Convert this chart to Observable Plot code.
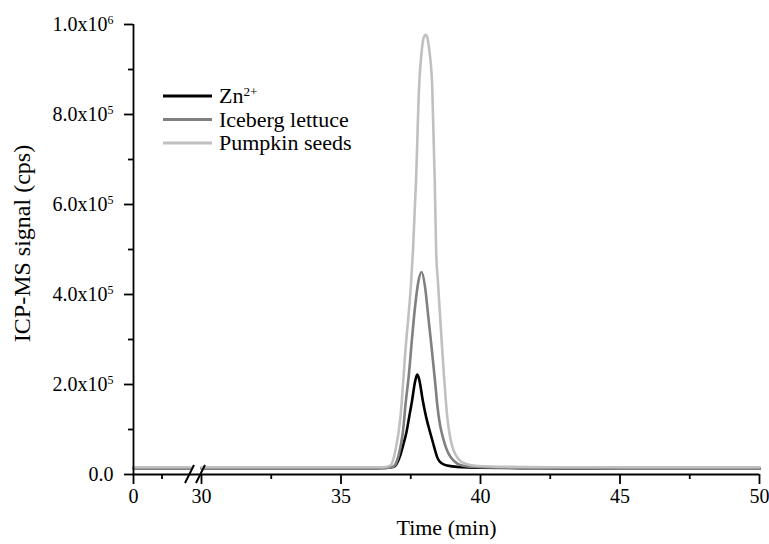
<!DOCTYPE html>
<html><head><meta charset="utf-8">
<script src="https://cdn.jsdelivr.net/npm/d3@7"></script>
<script src="https://cdn.jsdelivr.net/npm/@observablehq/plot@0.6"></script>
<style>
body{margin:0;background:#fff;}
#chart{position:relative;width:769px;height:544px;}
</style></head><body><div id="chart"></div>
<script>
// ---- data ----
const seriesNames = ["Zn2+", "Iceberg lettuce", "Pumpkin seeds"];
const legendLabels = ["Zn^2+", "Iceberg lettuce", "Pumpkin seeds"];
const seriesColors = ["#000000", "#808080", "#c0c0c0"];

const znTime   = [0, 28, 30, 33, 36, 36.6, 36.9, 37.1, 37.25, 37.34, 37.45, 37.55, 37.65, 37.73, 37.8, 37.93, 38.05, 38.21, 38.3, 38.39, 38.45, 38.55, 38.7, 39.0, 39.3, 40, 42, 45, 50];
const znSignal = [14e3, 14e3, 14e3, 14e3, 14e3, 14.5e3, 17e3, 38e3, 70e3, 92e3, 130e3, 165e3, 205e3, 222e3, 212e3, 165e3, 128e3, 90e3, 70e3, 50e3, 38e3, 28e3, 22e3, 18e3, 16e3, 15e3, 14e3, 13e3, 13e3];

const iceTime   = [0, 28, 30, 33, 36, 36.6, 36.84, 37.01, 37.12, 37.22, 37.32, 37.43, 37.55, 37.65, 37.77, 37.89, 38.01, 38.13, 38.26, 38.39, 38.45, 38.55, 38.63, 38.75, 38.86, 39.05, 39.34, 40, 41, 43, 46, 50];
const iceSignal = [14e3, 14e3, 14e3, 14e3, 14e3, 14.5e3, 16e3, 31e3, 58e3, 95e3, 160e3, 220e3, 305e3, 370e3, 428e3, 450e3, 418e3, 350e3, 275e3, 195e3, 155e3, 110e3, 88e3, 62e3, 46e3, 30e3, 20e3, 16e3, 15e3, 14e3, 13e3, 13e3];

const pumTime   = [0, 28, 30, 33, 36, 36.5, 36.6, 36.77, 36.95, 37.13, 37.31, 37.51, 37.58, 37.69, 37.8, 37.9, 37.97, 38.03, 38.09, 38.16, 38.27, 38.36, 38.41, 38.47, 38.63, 38.81, 38.92, 39.04, 39.2, 39.46, 39.9, 41, 43, 50];
const pumSignal = [16e3, 16e3, 16e3, 16e3, 16e3, 16e3, 16.5e3, 20e3, 53e3, 127e3, 276e3, 425e3, 498e3, 654e3, 862e3, 945e3, 972e3, 977e3, 972e3, 945e3, 862e3, 654e3, 498e3, 432e3, 276e3, 127e3, 80e3, 53e3, 35e3, 24e3, 19e3, 17e3, 16e3, 16e3];

const xBreak = [28, 30];
const xTicks = [0, 30, 35, 40, 45, 50];
const xTickLabels = ["0", "30", "35", "40", "45", "50"];
const xMinorTicks = [14, 32.5, 37.5, 42.5, 47.5];
const yTicks = [0, 2e5, 4e5, 6e5, 8e5, 1e6];
const yTickLabels = ["0.0", "2.0x10^5", "4.0x10^5", "6.0x10^5", "8.0x10^5", "1.0x10^6"];
const yMinorTicks = [1e5, 3e5, 5e5, 7e5, 9e5];
const xTitle = "Time (min)";
const yTitle = "ICP-MS signal (cps)";

// broken time axis: 0–28 min is compressed into a short segment, then a gap, then 30–50 min
const leftSpan = 2.043, gapSpan = 0.394;
const axisTime = t => t >= xBreak[1] ? t
  : t <= xBreak[0] ? (xBreak[1] - gapSpan - leftSpan) + t * leftSpan / xBreak[0]
  : xBreak[1] - gapSpan + (t - xBreak[0]) * gapSpan / (xBreak[1] - xBreak[0]);

// ---- build table ----
const seriesData = [[znTime, znSignal], [iceTime, iceSignal], [pumTime, pumSignal]];
const rows = [];
seriesData.forEach(([ts, vs], i) => {
  ts.forEach((t, j) => rows.push({
    series: seriesNames[i],
    key: seriesNames[i] + (t <= xBreak[0] ? "-a" : "-b"),
    x: axisTime(t), v: vs[j]
  }));
});

const font = "'Liberation Serif','Times New Roman',serif";
const svg = Plot.plot({
  width: 769, height: 544,
  marginLeft: 133, marginRight: 10, marginTop: 24, marginBottom: 70,
  style: {fontFamily: font, background: "white", color: "black", overflow: "visible"},
  x: {domain: [axisTime(0), 50], label: null},
  y: {domain: [0, 1e6], label: null},
  color: {domain: seriesNames, range: seriesColors},
  marks: [
    Plot.line(rows, {x: "x", y: "v", z: "key", stroke: "series", strokeWidth: 2.6, curve: "monotone-x"}),
    Plot.ruleY([0], {strokeWidth: 1.8}),
    Plot.ruleX([axisTime(0)], {strokeWidth: 1.8}),
    Plot.axisX(xTicks.map(axisTime), {tickSize: 10, tickPadding: 4, strokeWidth: 1.8, fontSize: 20, label: null,
      tickFormat: d => xTickLabels[xTicks.findIndex(t => Math.abs(axisTime(t) - d) < 1e-9)]}),
    Plot.axisX(xMinorTicks.map(axisTime), {tickSize: 5, strokeWidth: 1.8, label: null, tickFormat: () => ""}),
    Plot.axisY(yTicks, {tickSize: 9, tickPadding: 11, strokeWidth: 1.8, fontSize: 20, label: null,
      tickFormat: d => yTickLabels[yTicks.indexOf(d)]}),
    Plot.axisY(yMinorTicks, {tickSize: 5, strokeWidth: 1.8, label: null, tickFormat: () => ""}),
    Plot.text([yTitle], {frameAnchor: "left", rotate: -90, dx: -111, dy: -6, fontSize: 24, textAnchor: "middle", lineAnchor: "middle"}),
    Plot.text([xTitle], {frameAnchor: "bottom", dy: 53, fontSize: 22, textAnchor: "middle", lineAnchor: "middle"})
  ]
});
document.getElementById("chart").appendChild(svg);

const sx = svg.scale("x");
const sel = d3.select(svg);

// axis break marks
const y0 = svg.scale("y").apply(0);
xBreak.forEach(b => {
  const xb = sx.apply(axisTime(b));
  sel.append("line").attr("x1", xb - 5).attr("y1", y0 + 9).attr("x2", xb + 4).attr("y2", y0 - 9)
    .attr("stroke", "black").attr("stroke-width", 2);
});

// legend
const lg = sel.append("g").attr("font-family", font).attr("font-size", 22).attr("text-anchor", "start");
legendLabels.forEach((lab, i) => {
  const y = 96 + i * 23.5;
  lg.append("line").attr("x1", 163).attr("x2", 212).attr("y1", y).attr("y2", y)
    .attr("stroke", seriesColors[i]).attr("stroke-width", 3);
  lg.append("text").attr("x", 219).attr("y", y + 7).text(lab);
});

// superscripts
sel.selectAll("text").each(function() {
  const s = this.textContent;
  if (s.includes("^")) {
    const [b, e] = s.split("^");
    this.textContent = b;
    d3.select(this).append("tspan").attr("dy", "-0.55em").attr("font-size", "0.6em").text(e);
  }
});
</script>
</body></html>
